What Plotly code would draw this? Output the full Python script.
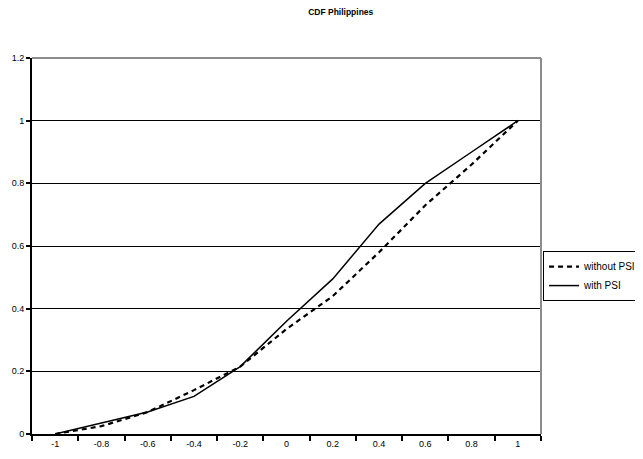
import plotly.graph_objects as go

# data
x_labels = ["-1", "-0.8", "-0.6", "-0.4", "-0.2", "0", "0.2", "0.4", "0.6", "0.8", "1"]
without_psi = [0.0, 0.025, 0.07, 0.14, 0.215, 0.335, 0.44, 0.58, 0.73, 0.86, 1.0]
with_psi = [0.0, 0.035, 0.07, 0.12, 0.215, 0.36, 0.495, 0.67, 0.80, 0.90, 1.0]
y_ticks = [0, 0.2, 0.4, 0.6, 0.8, 1, 1.2]

font_family = "Liberation Sans, Arial, sans-serif"

fig = go.Figure()

fig.add_trace(go.Scatter(x=x_labels, y=without_psi, mode="lines", name="without PSI",
                         line=dict(color="black", width=2.2, dash="5px,4px")))
fig.add_trace(go.Scatter(x=x_labels, y=with_psi, mode="lines", name="with PSI",
                         line=dict(color="black", width=1.5)))

# grey top/right border of the plot area
fig.add_shape(type="line", xref="paper", yref="paper", x0=0, x1=1, y0=1, y1=1,
              line=dict(color="#8c8c8c", width=2))
fig.add_shape(type="line", xref="paper", yref="paper", x0=1, x1=1, y0=0, y1=1,
              line=dict(color="#8c8c8c", width=2))

fig.update_xaxes(type="category", range=[-0.5, len(x_labels) - 0.5],
                 tickson="boundaries", ticks="outside", ticklen=5,
                 tickcolor="black", tickwidth=1.5,
                 showline=True, linecolor="black", linewidth=2,
                 showgrid=False, zeroline=False,
                 tickfont=dict(size=9, color="black", family=font_family))
fig.update_yaxes(range=[0, 1.2], tickvals=y_ticks, ticktext=["0", "0.2", "0.4", "0.6", "0.8", "1", "1.2"],
                 ticks="outside", ticklen=4, tickcolor="black", tickwidth=1.5,
                 showline=True, linecolor="black", linewidth=2,
                 showgrid=True, gridcolor="black", gridwidth=1,
                 zeroline=False,
                 tickfont=dict(size=9, color="black", family=font_family))

# the page body adds an 8px margin, so the figure is 8px smaller each way
fig.update_layout(
    width=635, height=451,
    title=dict(text="<b>CDF Philippines</b>", x=0.524, xanchor="center",
               y=0.991, yanchor="middle",
               font=dict(size=8.5, color="black", family=font_family)),
    margin=dict(l=24, r=102, t=50, b=25, autoexpand=False),
    plot_bgcolor="white", paper_bgcolor="white",
    legend=dict(x=1.004, xanchor="left", y=0.42, yanchor="middle",
                bordercolor="black", borderwidth=1, bgcolor="white",
                font=dict(size=10, color="black", family=font_family),
                tracegroupgap=0, itemwidth=30),
    showlegend=True,
)

fig.write_html("out.html")
